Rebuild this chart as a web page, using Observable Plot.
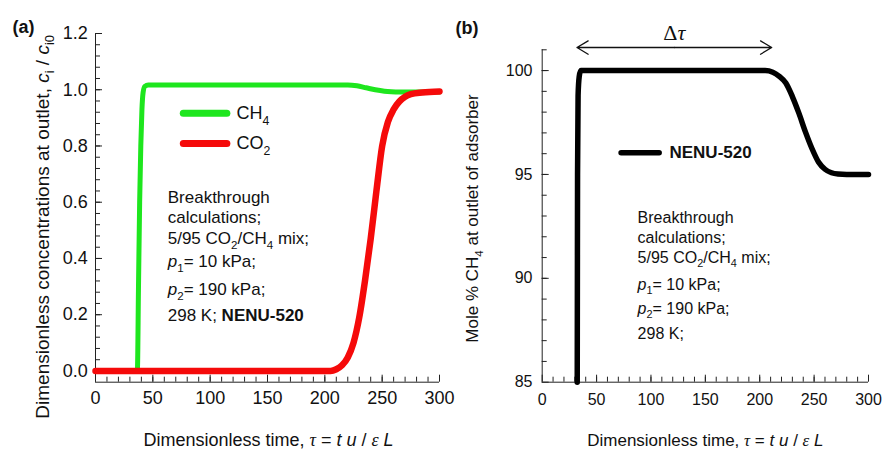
<!DOCTYPE html>
<html>
<head>
<meta charset="utf-8">
<script src="https://cdn.jsdelivr.net/npm/d3@7"></script>
<script src="https://cdn.jsdelivr.net/npm/@observablehq/plot@0.6"></script>
<style>
  body { margin: 0; background: #fff; }
  #fig { position: relative; width: 885px; height: 450px; overflow: hidden; }
  #fig > svg { position: absolute; top: 0; }
</style>
</head>
<body>
<div id="fig"></div>
<script>
// Breakthrough curves, 5/95 CO2/CH4 mixture, NENU-520
// (a) dimensionless outlet concentrations
const tauCH4 = [0, 36.5, 37.5, 38.5, 39.5, 40.5, 41.5, 43, 46, 220, 228, 236, 244, 252, 258, 265, 280, 300];
const cCH4   = [0, 0, 0.3, 0.6, 0.8, 0.93, 0.99, 1.012, 1.017, 1.017, 1.014, 1.007, 1.0, 0.995, 0.993, 0.992, 0.992, 0.992];
const tauCO2 = [0, 205, 210, 215, 220, 225, 230, 235, 240, 245, 250, 255, 260, 265, 270, 275, 285, 300];
const cCO2   = [0, 0, 0.006, 0.02, 0.048, 0.1, 0.19, 0.32, 0.47, 0.64, 0.8, 0.885, 0.93, 0.958, 0.975, 0.984, 0.99, 0.994];
// (b) mole % CH4 at adsorber outlet
const tauB       = [32.2, 32.5, 33, 34, 35.5, 38, 205, 212, 218, 224, 230, 236, 242, 248, 254, 260, 266, 272, 280, 300];
const molePctCH4 = [85, 95, 98.8, 99.7, 100, 100, 100, 99.92, 99.72, 99.4, 98.75, 97.95, 97.05, 96.25, 95.6, 95.25, 95.08, 95.02, 95, 95];
// Delta tau span marked above panel (b)
const deltaTau = [32, 211];

// tick values
const xTicks = [0, 50, 100, 150, 200, 250, 300];
const xMinor = d3.range(10, 300, 10);
const yTicksA = [0, 0.2, 0.4, 0.6, 0.8, 1.0, 1.2];
const yMinorA = d3.range(1, 30).map(k => k * 0.04);
const yTicksB = [85, 90, 95, 100];
const yMinorB = d3.range(86, 102);

const infoA = ["Breakthrough", "calculations;", "5/95 CO<sub>2</sub>/CH<sub>4</sub> mix;",
  "<i>p</i><sub>1</sub>= 10 kPa;", "<i>p</i><sub>2</sub>= 190 kPa;", "298 K; <b>NENU-520</b>"];
const infoB = ["Breakthrough", "calculations;", "5/95 CO<sub>2</sub>/CH<sub>4</sub> mix;",
  "<i>p</i><sub>1</sub>= 10 kPa;", "<i>p</i><sub>2</sub>= 190 kPa;", "298 K;"];

const GREEN = "#1ee61e", RED = "#f50a0a", INK = "#222";
const SANS = "'Liberation Sans', Arial, sans-serif";
const SERIF = "'Liberation Serif', 'Times New Roman', serif";
const xTitle = "Dimensionless time, <m>τ</m> = <i>t u</i> / <m>ε</m> <i>L</i>";

const ptsCH4 = tauCH4.map((t, i) => ({t, c: cCH4[i]}));
const ptsCO2 = tauCO2.map((t, i) => ({t, c: cCO2[i]}));
const ptsB = tauB.map((t, i) => ({t, m: molePctCH4[i]}));

function axes(yTicks, yMinor, yFmt, padY, padX, fs) {
  return [
    Plot.axisX(xMinor, {tickSize: -5, tickFormat: () => "", label: null, stroke: INK}),
    Plot.axisX(xTicks, {tickSize: -7, tickPadding: padX, label: null, stroke: INK, fontSize: fs, fill: "#111"}),
    Plot.axisY(yMinor, {tickSize: -5, tickFormat: () => "", label: null, stroke: INK}),
    Plot.axisY(yTicks, {tickSize: -7, tickPadding: padY, tickFormat: yFmt, label: null, stroke: INK, fontSize: fs, fill: "#111"})
  ];
}

// Panel (a)
const yLoA = -0.04;
const plotA = Plot.plot({
  width: 440, height: 450,
  marginLeft: 95, marginRight: 1, marginTop: 33, marginBottom: 68.3,
  style: {background: "transparent", overflow: "visible", fontFamily: SANS},
  x: {domain: [0, 300]},
  y: {domain: [yLoA, 1.2]},
  marks: [
    ...axes(yTicksA, yMinorA, d3.format(".1f"), 14.7, 16, 18),
    Plot.ruleX([0], {y1: yLoA, y2: 1.2, stroke: INK}),
    Plot.ruleY([yLoA], {x1: 0, x2: 300, stroke: INK}),
    Plot.line(ptsCH4, {x: "t", y: "c", stroke: GREEN, strokeWidth: 5, curve: "monotone-x", strokeLinecap: "round", strokeLinejoin: "round"}),
    Plot.line(ptsCO2, {x: "t", y: "c", stroke: RED, strokeWidth: 6.5, curve: "monotone-x", strokeLinecap: "round", strokeLinejoin: "round"}),
    // legend keys
    Plot.ruleY([0.916], {x1: 77, x2: 115, stroke: GREEN, strokeWidth: 7, strokeLinecap: "round"}),
    Plot.ruleY([0.809], {x1: 77, x2: 115, stroke: RED, strokeWidth: 7, strokeLinecap: "round"}),
    Plot.text(["CH<sub>4</sub>"], {x: 123, y: 0.916, textAnchor: "start", fontSize: 18, fill: "#111"}),
    Plot.text(["CO<sub>2</sub>"], {x: 123, y: 0.809, textAnchor: "start", fontSize: 18, fill: "#111"}),
    // conditions
    Plot.text(infoA, {x: 63, y: [0.617, 0.545, 0.471, 0.389, 0.29, 0.198], textAnchor: "start", fontSize: 17, fill: "#111"}),
    // titles
    Plot.text(["(a)"], {frameAnchor: "top-left", dx: -83, dy: -6.5, textAnchor: "start", lineAnchor: "middle", fontSize: 18, fontWeight: "bold", fill: "#111"}),
    Plot.text([xTitle], {frameAnchor: "bottom", dx: 1, dy: 58, textAnchor: "middle", lineAnchor: "middle", fontSize: 18, fill: "#111"}),
    Plot.text(["Dimensionless concentrations at outlet, <i>c</i><sub>i</sub> / <i>c</i><sub>i0</sub>"],
      {frameAnchor: "left", rotate: -90, dx: -53, dy: 19, textAnchor: "middle", lineAnchor: "middle", fontSize: 19, fill: "#111"})
  ]
});

// Panel (b)
const plotB = Plot.plot({
  width: 445, height: 450,
  marginLeft: 101.7, marginRight: 17, marginTop: 49.3, marginBottom: 68.3,
  style: {background: "transparent", overflow: "visible", fontFamily: SANS},
  x: {domain: [0, 300]},
  y: {domain: [85, 101]},
  marks: [
    ...axes(yTicksB, yMinorB, d3.format("d"), 16.7, 18.6, 16),
    Plot.ruleX([0], {y1: 85, y2: 101, stroke: INK}),
    Plot.ruleY([85], {x1: 0, x2: 300, stroke: INK}),
    Plot.line(ptsB, {x: "t", y: "m", stroke: "#000", strokeWidth: 5.5, curve: "monotone-x", strokeLinecap: "round", strokeLinejoin: "round"}),
    // legend key
    Plot.ruleY([96.05], {x1: 73, x2: 108, stroke: "#000", strokeWidth: 5.5, strokeLinecap: "round"}),
    Plot.text(["NENU-520"], {x: 117, y: 96.05, textAnchor: "start", fontSize: 17, fontWeight: "bold", fill: "#111"}),
    // conditions
    Plot.text(infoB, {x: 87.7, y: [92.93, 91.96, 91.0, 89.7, 88.55, 87.34], textAnchor: "start", fontSize: 16, fill: "#111"}),
    // delta tau span
    Plot.arrow([0], {x1: (deltaTau[0] + deltaTau[1]) / 2, x2: deltaTau[0], y1: 101.11, y2: 101.11, stroke: "#111", strokeWidth: 1.3, headLength: 15, headAngle: 62}),
    Plot.arrow([0], {x1: (deltaTau[0] + deltaTau[1]) / 2, x2: deltaTau[1], y1: 101.11, y2: 101.11, stroke: "#111", strokeWidth: 1.3, headLength: 15, headAngle: 62}),
    Plot.text(["Δ<i>τ</i>"], {x: (deltaTau[0] + deltaTau[1]) / 2, y: 101.8, fontSize: 22, fontFamily: SERIF, fill: "#111"}),
    // titles
    Plot.text(["(b)"], {frameAnchor: "top-left", dx: -86.7, dy: -21.8, textAnchor: "start", lineAnchor: "middle", fontSize: 18, fontWeight: "bold", fill: "#111"}),
    Plot.text([xTitle], {frameAnchor: "bottom", dx: 0, dy: 58, textAnchor: "middle", lineAnchor: "middle", fontSize: 17, fill: "#111"}),
    Plot.text(["Mole % CH<sub>4</sub> at outlet of adsorber"],
      {frameAnchor: "left", rotate: -90, dx: -69.7, dy: 2.5, textAnchor: "middle", lineAnchor: "middle", fontSize: 17, fill: "#111"})
  ]
});

const fig = document.getElementById("fig");
plotA.style.left = "0px";
plotB.style.left = "440px";
fig.append(plotA, plotB);

// Turn the small inline markup (<i>, <b>, <sub>, <m>) into styled tspans.
function enrich(svg) {
  d3.select(svg).selectAll("text").each(function () {
    const s = this.textContent;
    if (!s.includes("<")) return;
    const fs = parseFloat(getComputedStyle(this).fontSize) || 16;
    const el = d3.select(this).text(null);
    let italic = false, bold = false, sub = false, serif = false, shift = 0;
    for (const part of s.split(/(<\/?[a-z]+>)/)) {
      const m = part.match(/^<(\/?)([a-z]+)>$/);
      if (m) {
        const on = !m[1];
        if (m[2] === "i") italic = on;
        else if (m[2] === "b") bold = on;
        else if (m[2] === "sub") sub = on;
        else if (m[2] === "m") serif = on;
        continue;
      }
      if (!part) continue;
      const t = el.append("tspan").text(part);
      if (italic || serif) t.attr("font-style", "italic");
      if (bold) t.attr("font-weight", "bold");
      if (serif) t.attr("font-family", SERIF);
      const target = sub ? fs * 0.3 : 0;
      if (target !== shift) { t.attr("dy", target - shift); shift = target; }
      if (sub) t.attr("font-size", fs * 0.68);
    }
  });
}
enrich(plotA);
enrich(plotB);
</script>
</body>
</html>
